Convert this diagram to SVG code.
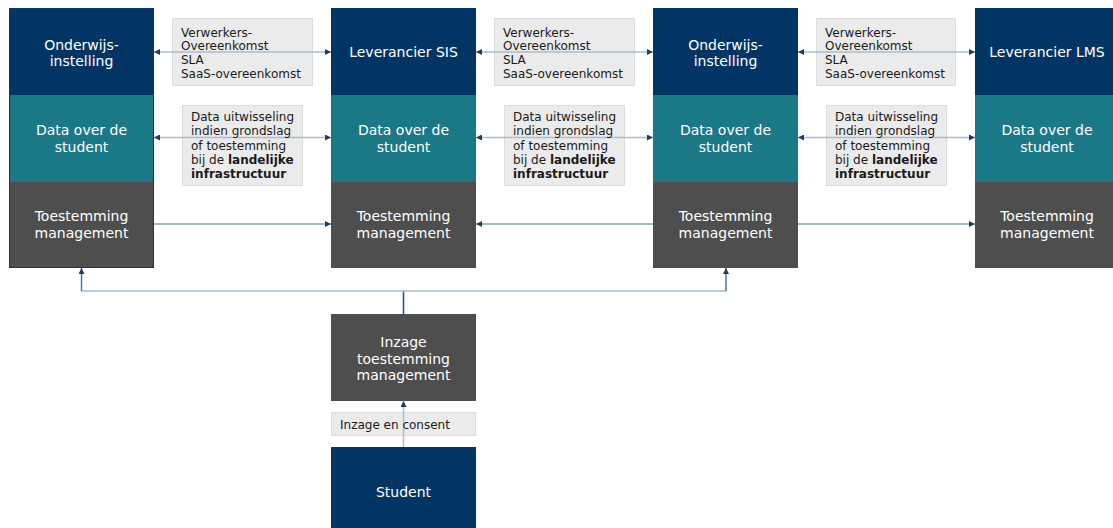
<svg xmlns="http://www.w3.org/2000/svg" width="1113" height="528" viewBox="0 0 1113 528">
<style>
.navy{fill:#023564}
.teal{fill:#1b7887}
.gray{fill:#4e4e4e}
.nt{font-family:"DejaVu Sans",Verdana,sans-serif;font-size:14px;fill:#ffffff;text-anchor:middle}
.lbox{fill:#ebebeb;stroke:#dcdcdc;stroke-width:1}
.lt{font-family:"DejaVu Sans",Verdana,sans-serif;font-size:12px;fill:#1a1a1a}
.b{font-weight:bold}
.lite{fill:none;stroke:#a9bdd2;stroke-width:1.5}
.mid{fill:none;stroke:#46729c;stroke-width:1.2}
.dark{fill:none;stroke:#1f4e79;stroke-width:1.5}
</style>
<defs>
<marker id="ah" viewBox="0 0 6 6" refX="6" refY="3" markerWidth="6" markerHeight="6" markerUnits="userSpaceOnUse" orient="auto-start-reverse">
<path d="M0,0 L6,3 L0,6 z" fill="#1f3c66"/>
</marker>
</defs>

<g id="col1">
<g id="onderwijs1"><rect class="navy" x="9" y="8" width="145" height="87"/><text class="nt" x="81.5" y="50">Onderwijs-</text><text class="nt" x="81.5" y="66">instelling</text></g>
<g id="data1"><rect class="teal" x="9" y="95" width="145" height="87"/><text class="nt" x="81.5" y="135">Data over de</text><text class="nt" x="81.5" y="152">student</text></g>
<g id="toest1"><rect class="gray" x="9" y="182" width="145" height="86"/><text class="nt" x="81.5" y="221">Toestemming</text><text class="nt" x="81.5" y="238">management</text></g>
<rect x="9.5" y="8.5" width="144" height="259" fill="none" stroke="#0d3a66" stroke-width="1"/>
</g>

<g id="col2">
<g id="leverancier-sis"><rect class="navy" x="331" y="8" width="145" height="87"/><text class="nt" x="403.5" y="57">Leverancier SIS</text></g>
<g id="data2"><rect class="teal" x="331" y="95" width="145" height="87"/><text class="nt" x="403.5" y="135">Data over de</text><text class="nt" x="403.5" y="152">student</text></g>
<g id="toest2"><rect class="gray" x="331" y="182" width="145" height="86"/><text class="nt" x="403.5" y="221">Toestemming</text><text class="nt" x="403.5" y="238">management</text></g>
</g>

<g id="col3">
<g id="onderwijs2"><rect class="navy" x="653" y="8" width="145" height="87"/><text class="nt" x="725.5" y="50">Onderwijs-</text><text class="nt" x="725.5" y="66">instelling</text></g>
<g id="data3"><rect class="teal" x="653" y="95" width="145" height="87"/><text class="nt" x="725.5" y="135">Data over de</text><text class="nt" x="725.5" y="152">student</text></g>
<g id="toest3"><rect class="gray" x="653" y="182" width="145" height="86"/><text class="nt" x="725.5" y="221">Toestemming</text><text class="nt" x="725.5" y="238">management</text></g>
</g>

<g id="col4">
<g id="leverancier-lms"><rect class="navy" x="975" y="8" width="138" height="87"/><text class="nt" x="1047" y="57">Leverancier LMS</text></g>
<g id="data4"><rect class="teal" x="975" y="95" width="138" height="87"/><text class="nt" x="1047" y="135">Data over de</text><text class="nt" x="1047" y="152">student</text></g>
<g id="toest4"><rect class="gray" x="975" y="182" width="138" height="86"/><text class="nt" x="1047" y="221">Toestemming</text><text class="nt" x="1047" y="238">management</text></g>
</g>

<g id="inzage"><rect class="gray" x="331" y="314" width="145" height="87"/><text class="nt" x="403.5" y="347">Inzage</text><text class="nt" x="403.5" y="363.5">toestemming</text><text class="nt" x="403.5" y="380">management</text></g>
<g id="student"><rect class="navy" x="331" y="447" width="145" height="81"/><text class="nt" x="403.5" y="497">Student</text></g>

<g id="label-boxes">
<rect class="lbox" x="172.5" y="18.5" width="140" height="67"/>
<rect class="lbox" x="494.5" y="18.5" width="140" height="67"/>
<rect class="lbox" x="816.5" y="18.5" width="139" height="67"/>
<rect class="lbox" x="182.5" y="105.5" width="120" height="80"/>
<rect class="lbox" x="504.5" y="105.5" width="120" height="80"/>
<rect class="lbox" x="826.5" y="105.5" width="120" height="80"/>
<rect class="lbox" x="331.5" y="412.5" width="144" height="23"/>
</g>

<g id="connectors">
<line class="lite" x1="154" y1="52" x2="331" y2="52" marker-start="url(#ah)" marker-end="url(#ah)"/>
<line class="lite" x1="476" y1="52" x2="653" y2="52" marker-start="url(#ah)" marker-end="url(#ah)"/>
<line class="lite" x1="798" y1="52" x2="975" y2="52" marker-start="url(#ah)" marker-end="url(#ah)"/>
<line class="lite" x1="154" y1="137.5" x2="331" y2="137.5" marker-start="url(#ah)" marker-end="url(#ah)"/>
<line class="lite" x1="476" y1="137.5" x2="653" y2="137.5" marker-start="url(#ah)" marker-end="url(#ah)"/>
<line class="lite" x1="798" y1="137.5" x2="975" y2="137.5" marker-start="url(#ah)" marker-end="url(#ah)"/>
<line class="mid" x1="154" y1="224" x2="331" y2="224" marker-end="url(#ah)"/>
<line class="mid" x1="653" y1="224" x2="476" y2="224" marker-end="url(#ah)"/>
<line class="mid" x1="798" y1="224" x2="975" y2="224" marker-end="url(#ah)"/>
<line class="dark" x1="403.5" y1="314" x2="403.5" y2="291"/>
<polyline class="lite" points="81.5,268 81.5,291 726,291 726,268"/>
<line class="mid" x1="81.5" y1="291" x2="81.5" y2="268" marker-end="url(#ah)"/>
<line class="mid" x1="726" y1="291" x2="726" y2="268" marker-end="url(#ah)"/>
<line class="lite" x1="403.5" y1="447" x2="403.5" y2="401" marker-end="url(#ah)"/>
</g>

<g id="label-texts">
<text class="lt" x="181" y="36.5">Verwerkers-</text><text class="lt" x="181" y="50.2">Overeenkomst</text><text class="lt" x="181" y="63.9">SLA</text><text class="lt" x="181" y="77.6">SaaS-overeenkomst</text>
<text class="lt" x="503" y="36.5">Verwerkers-</text><text class="lt" x="503" y="50.2">Overeenkomst</text><text class="lt" x="503" y="63.9">SLA</text><text class="lt" x="503" y="77.6">SaaS-overeenkomst</text>
<text class="lt" x="825" y="36.5">Verwerkers-</text><text class="lt" x="825" y="50.2">Overeenkomst</text><text class="lt" x="825" y="63.9">SLA</text><text class="lt" x="825" y="77.6">SaaS-overeenkomst</text>
<text class="lt" x="191" y="121">Data uitwisseling</text><text class="lt" x="191" y="135.3">indien grondslag</text><text class="lt" x="191" y="149.6">of toestemming</text><text class="lt" x="191" y="163.9">bij de <tspan class="b">landelijke</tspan></text><text class="lt b" x="191" y="178.2">infrastructuur</text>
<text class="lt" x="513" y="121">Data uitwisseling</text><text class="lt" x="513" y="135.3">indien grondslag</text><text class="lt" x="513" y="149.6">of toestemming</text><text class="lt" x="513" y="163.9">bij de <tspan class="b">landelijke</tspan></text><text class="lt b" x="513" y="178.2">infrastructuur</text>
<text class="lt" x="835" y="121">Data uitwisseling</text><text class="lt" x="835" y="135.3">indien grondslag</text><text class="lt" x="835" y="149.6">of toestemming</text><text class="lt" x="835" y="163.9">bij de <tspan class="b">landelijke</tspan></text><text class="lt b" x="835" y="178.2">infrastructuur</text>
<text class="lt" x="340" y="429">Inzage en consent</text>
</g>
</svg>
